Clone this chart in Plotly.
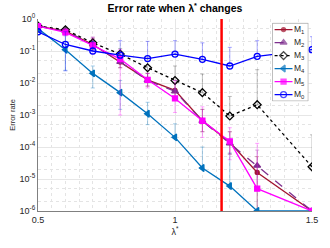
import plotly.graph_objects as go

# ---------------- data ----------------
lam = [0.5, 0.6, 0.7, 0.8, 0.9, 1.0, 1.1, 1.2, 1.3, 1.5]
lambda_star = 1.17

m1 = [0.6, 0.42, 0.16, 0.045, 0.0125, 0.0059, 6.6e-4, 1.4e-4, 1.6e-5, 1e-6]
m2 = [0.6, 0.42, 0.16, 0.046, 0.012, 0.0055, 6.5e-4, 1.3e-4, 2.6e-5, 1e-6]
m3 = [0.6, 0.46, 0.18, 0.08, 0.03, 0.012, 0.005, 9.3e-4, 2.1e-3, 2.4e-5]
m4 = [0.5, 0.11, 0.02, 0.005, 1.1e-3, 2e-4, 2.2e-5, 6e-6, 1e-6, 1e-6]
m5 = [0.6, 0.38, 0.15, 0.056, 0.0126, 0.0033, 6.6e-4, 1.5e-4, 5e-6, 1e-6]
m0 = [0.4, 0.16, 0.1, 0.074, 0.058, 0.08, 0.055, 0.034, 0.068, 0.11]

# error bar bounds (upper / lower values)
m1_hi = [0.7, 0.5, 0.24, 0.07, 0.02, 0.01, 1.5e-3, 3e-4, 5e-5, 1e-6]
m1_lo = [0.5, 0.35, 0.11, 0.03, 0.008, 0.003, 3e-4, 6e-5, 1e-6, 1e-6]
m2_hi = [0.7, 0.5, 0.24, 0.07, 0.02, 0.01, 1.5e-3, 3e-4, 8e-5, 1e-6]
m2_lo = [0.5, 0.35, 0.11, 0.03, 0.008, 0.003, 3e-4, 6e-5, 1e-6, 1e-6]
m3_hi = [0.7, 0.55, 0.27, 0.12, 0.06, 0.034, 0.019, 3.8e-3, 0.026, 2.4e-4]
m3_lo = [0.5, 0.38, 0.12, 0.05, 0.015, 0.012, 0.005, 9.3e-4, 2.1e-3, 2.4e-5]
m4_hi = [0.6, 0.3, 0.034, 0.012, 2.5e-3, 5.3e-4, 1e-4, 6.5e-5, 1e-6, 1e-6]
m4_lo = [0.4, 0.025, 0.007, 1.5e-3, 5e-4, 2e-4, 2.2e-5, 6e-6, 1e-6, 1e-6]
m5_hi = [0.7, 0.5, 0.27, 0.11, 0.02, 0.012, 1.8e-3, 4e-4, 1.3e-4, 1e-6]
m5_lo = [0.5, 0.3, 0.08, 1e-3, 0.007, 1.2e-3, 2e-4, 4e-5, 5e-6, 1e-6]
m0_hi = [0.5, 0.4, 0.2, 0.21, 0.2, 0.21, 0.18, 0.13, 0.21, 0.28]
m0_lo = [0.4, 0.024, 0.1, 0.074, 0.058, 0.08, 0.055, 0.034, 0.068, 0.11]

labels = ["M<sub>1</sub>", "M<sub>2</sub>", "M<sub>3</sub>",
          "M<sub>4</sub>", "M<sub>5</sub>", "M<sub>0</sub>"]

ytick_vals = [1e-6, 1e-5, 1e-4, 1e-3, 1e-2, 1e-1, 1]
ytick_text = ["10<sup>-6</sup>", "10<sup>-5</sup>", "10<sup>-4</sup>", "10<sup>-3</sup>",
              "10<sup>-2</sup>", "10<sup>-1</sup>", "10<sup>0</sup>"]
xtick_vals = [0.5, 1, 1.5]
xtick_text = ["0.5", "1", "1.5"]

styles = [
    ("#A2142F", "rgba(162,20,47,0.35)", "solid", "circle", 4),
    ("#7E2F8E", "rgba(126,47,142,0.35)", "dash", "triangle-up", 6),
    ("#000000", "rgba(0,0,0,0.25)", "dot", "diamond-open", 6),
    ("#0072BD", "rgba(0,114,189,0.35)", "solid", "triangle-left", 6),
    ("#FF00FF", "rgba(255,0,255,0.35)", "solid", "square", 5),
    ("#0000FF", "rgba(0,0,255,0.35)", "solid", "circle-open", 6),
]
data = [(m1, m1_hi, m1_lo), (m2, m2_hi, m2_lo), (m3, m3_hi, m3_lo),
        (m4, m4_hi, m4_lo), (m5, m5_hi, m5_lo), (m0, m0_hi, m0_lo)]

fig = go.Figure()
for (y, hi, lo), lab, (col, ecol, dash, sym, ms) in zip(data, labels, styles):
    plus = [h - v for h, v in zip(hi, y)]
    minus = [v - l for l, v in zip(lo, y)]
    fig.add_trace(go.Scatter(
        x=lam, y=y, name=lab, mode="lines+markers", showlegend=False,
        line=dict(color=col, width=1.3, dash=dash),
        marker=dict(symbol=sym, size=ms, color=col, line=dict(color=col, width=1.3)),
        error_y=dict(type="data", symmetric=False, array=plus, arrayminus=minus,
                     color=ecol, thickness=1, width=2),
    ))

fig.add_trace(go.Scatter(
    x=[lambda_star, lambda_star], y=[1e-6, 1], mode="lines",
    line=dict(color="#FF0000", width=2.5), showlegend=False, hoverinfo="skip"))

# ---- compact legend drawn in an inset axis ----
n = len(labels)
fig.add_trace(go.Scatter(
    x=[0, 1, 1, 0, 0], y=[0, 0, n, n, 0], mode="lines", fill="toself",
    fillcolor="white", line=dict(color="#a0a0a0", width=1),
    xaxis="x2", yaxis="y2", showlegend=False, hoverinfo="skip"))
for i, (lab, (col, ecol, dash, sym, ms)) in enumerate(zip(labels, styles)):
    yc = n - 0.5 - i
    fig.add_trace(go.Scatter(
        x=[0.06, 0.31, 0.56], y=[yc, yc, yc], mode="lines+markers",
        xaxis="x2", yaxis="y2", showlegend=False, hoverinfo="skip",
        line=dict(color=col, width=1.3, dash=dash),
        marker=dict(symbol=sym, size=[0, ms, 0], color=col, line=dict(color=col, width=1.3)),
    ))
    fig.add_annotation(x=0.6, y=yc, xref="x2", yref="y2", text=lab, showarrow=False,
                       xanchor="left", yanchor="middle", xshift=-2,
                       font=dict(size=8.5, color="#262626"))

fig.update_layout(
    width=330, height=248,
    margin=dict(l=35, r=13, t=15, b=37),
    paper_bgcolor="white", plot_bgcolor="white",
    font=dict(family="Liberation Sans, Arial, sans-serif", size=9, color="#262626"),
    title=dict(text="<b>Error rate when λ<sup>*</sup> changes</b>", xref="paper", x=0.5,
               xanchor="center", yref="container", y=0.965, yanchor="middle",
               font=dict(size=10.5, color="black")),
    showlegend=False,
    xaxis=dict(range=[0.5, 1.5], tickvals=xtick_vals, ticktext=xtick_text,
               showgrid=True, gridcolor="#e6e6e6", gridwidth=1,
               minor=dict(dtick=0.05, showgrid=True, gridcolor="#e4e4e4", griddash="dot"),
               showline=True, linecolor="#808080", linewidth=1, ticks="",
               title=dict(text="λ<sup>*</sup>", standoff=2, font=dict(size=9)),
               zeroline=False, tickfont=dict(size=9)),
    yaxis=dict(type="log", range=[-6, 0], tickvals=ytick_vals, ticktext=ytick_text,
               showgrid=True, gridcolor="#e6e6e6", gridwidth=1,
               minor=dict(showgrid=True, gridcolor="#e4e4e4", griddash="dot"),
               showline=True, linecolor="#808080", linewidth=1, ticks="",
               title=dict(text="Error rate", standoff=2, font=dict(size=7.5)),
               zeroline=False, tickfont=dict(size=9)),
    xaxis2=dict(domain=[0.855, 0.987], range=[-0.005, 1.005], anchor="y2", visible=False,
                fixedrange=True),
    yaxis2=dict(domain=[0.571, 0.980], range=[-0.02, n + 0.02], anchor="x2", visible=False,
                fixedrange=True),
)

fig.write_html("out.html", post_script="document.body.style.margin='0';",
               config={"displayModeBar": False})
